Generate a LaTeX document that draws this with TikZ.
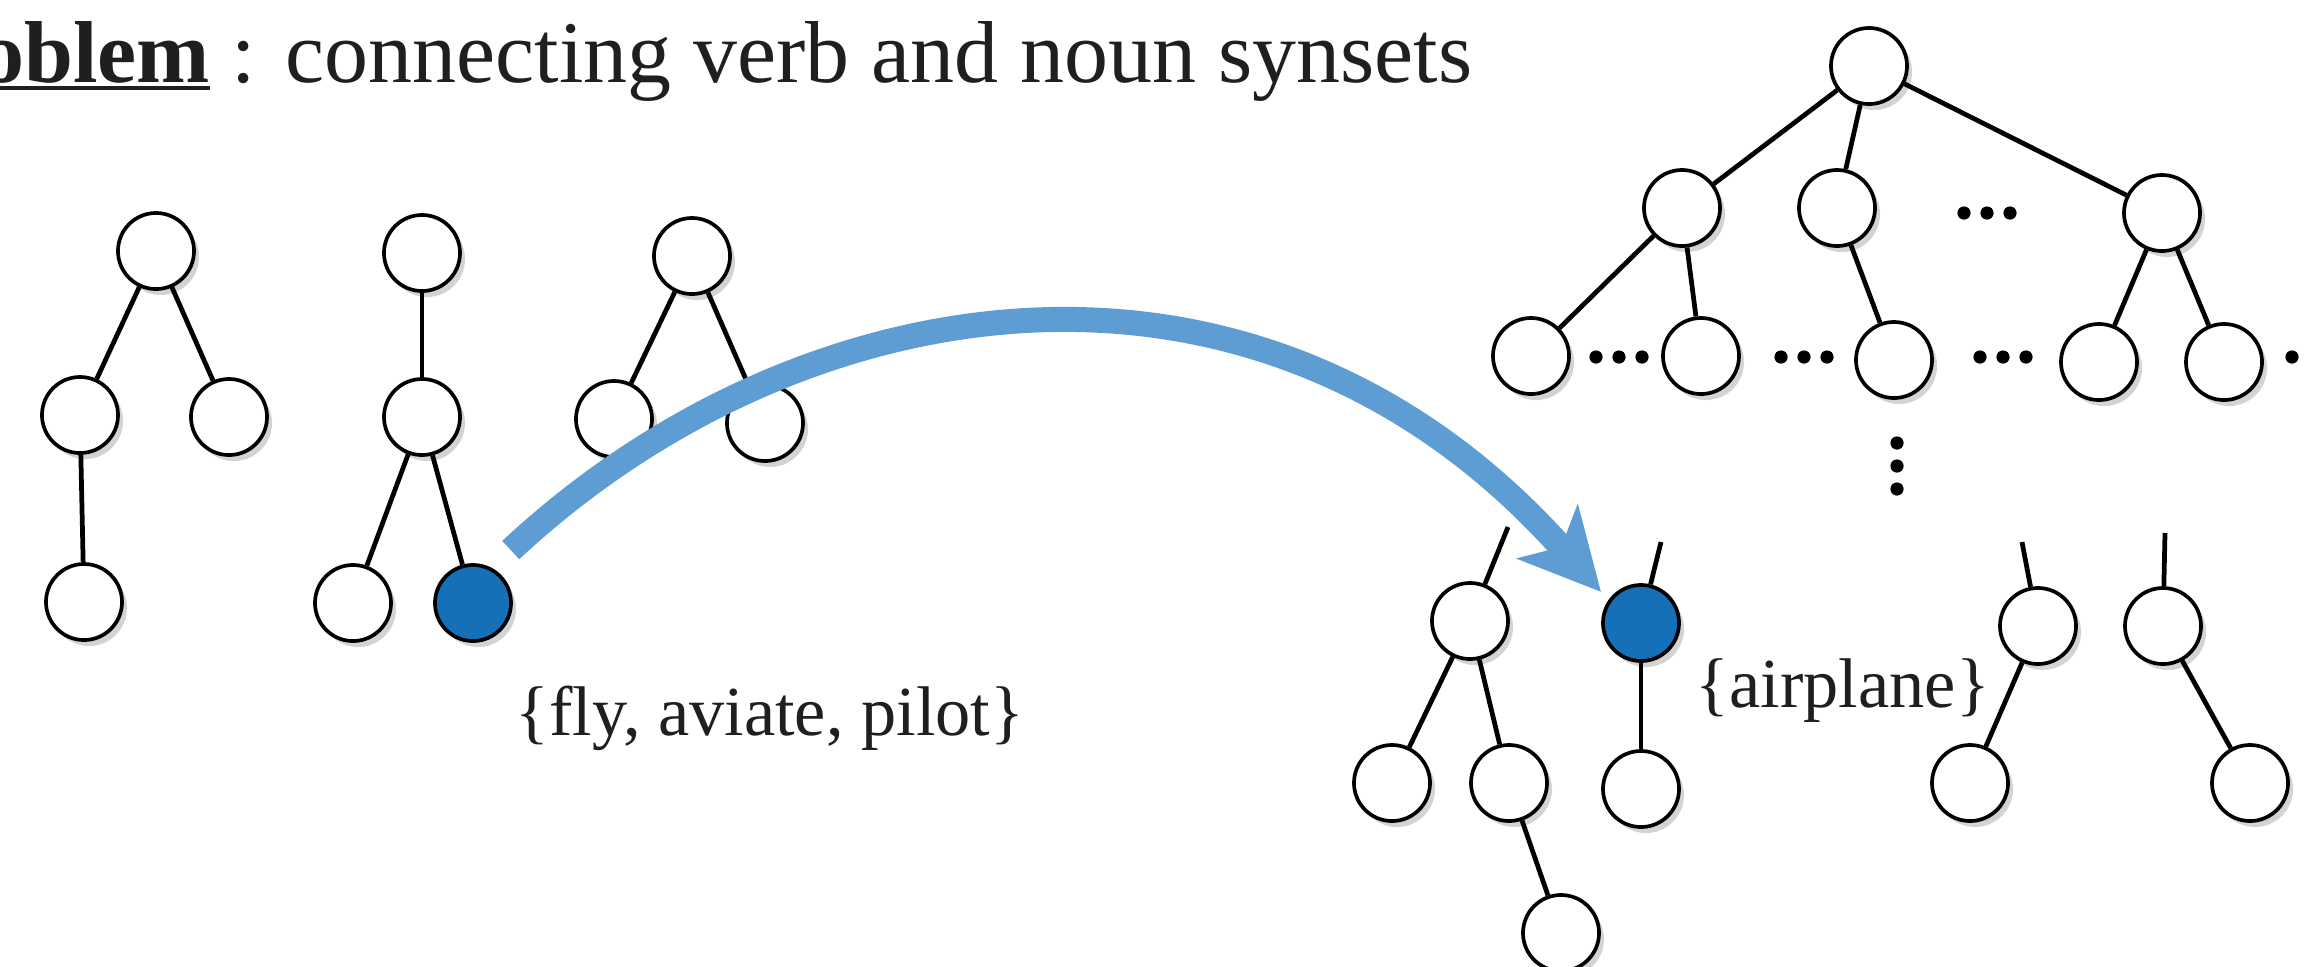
\documentclass[tikz,border=0pt]{standalone}
\usepackage{fontspec}
\setmainfont{Liberation Serif}
\usetikzlibrary{arrows.meta,shadows}

\definecolor{ArrowColor}{HTML}{5E9CD4}
\definecolor{SynsetColor}{HTML}{1570B8}

\newsavebox\ulbox
\newcommand{\ulword}[1]{\sbox\ulbox{#1}\rlap{\rule[-2.4pt]{\wd\ulbox}{1.2pt}}\usebox\ulbox}

\tikzset{
  synset/.style={circle, draw=black, line width=1.05pt, fill=white,
    minimum size=0.76cm, inner sep=0pt,
    drop shadow={shadow xshift=0.05cm, shadow yshift=-0.06cm, opacity=0.35}},
  picked/.style={synset, fill=SynsetColor},
  link/.style={line width=1.35pt},
  flow/.style={draw=ArrowColor, line width=0.25cm,
    -{Stealth[length=0.8cm, width=0.8cm, inset=0.2cm]}},
  synlabel/.style={inner sep=0pt, font=\fontsize{20}{24}\selectfont, text=black!88},
}

\begin{document}
\begin{tikzpicture}[x=0.01cm, y=-0.01cm]

  %–– Marco ––
  \useasboundingbox (0,0) rectangle (2305,966);
  \clip (0,0) rectangle (2305,966);

  %–– Parámetros de los puntos ––
  \def\dotgap{23}
  \def\dotsize{0.066cm}

  %–– Título ––
  \node[anchor=base east, inner sep=0pt, font=\fontsize{25}{30}\selectfont, text=black!88]
    (title) at (1473,82) {\ulword{\textbf{Problem}} : connecting verb and noun synsets};

  %–– Árboles de verbos ––
  \node[synset] (v1r) at (156,251) {};
  \node[synset] (v1a) at (80,415) {};
  \node[synset] (v1b) at (229,417) {};
  \node[synset] (v1c) at (84,602) {};

  \node[synset] (v2r) at (422,253) {};
  \node[synset] (v2a) at (422,417) {};
  \node[synset] (v2b) at (353,603) {};
  \node[picked] (v2c) at (473,603) {};

  \node[synset] (v3r) at (692,256) {};
  \node[synset] (v3a) at (614,419) {};
  \node[synset] (v3b) at (765,423) {};

  %–– Árbol grande de sustantivos ––
  \node[synset] (n0) at (1869,66) {};
  \node[synset] (n1) at (1682,208) {};
  \node[synset] (n2) at (1837,208) {};
  \node[synset] (n3) at (2162,213) {};
  \node[synset] (n11) at (1531,356) {};
  \node[synset] (n12) at (1701,356) {};
  \node[synset] (n21) at (1894,360) {};
  \node[synset] (n31) at (2099,362) {};
  \node[synset] (n32) at (2224,362) {};

  %–– Subárboles de abajo ––
  \node[synset] (a) at (1470,621) {};
  \node[synset] (a1) at (1392,783) {};
  \node[synset] (a2) at (1509,783) {};
  \node[synset] (a21) at (1561,933) {};

  \node[picked] (b) at (1641,623) {};
  \node[synset] (b1) at (1641,789) {};

  \node[synset] (c) at (2038,626) {};
  \node[synset] (c1) at (1970,783) {};

  \node[synset] (d) at (2163,626) {};
  \node[synset] (d1) at (2250,783) {};

  \coordinate (atop) at (1508,527);
  \coordinate (btop) at (1661,542);
  \coordinate (ctop) at (2022,542);
  \coordinate (dtop) at (2165,533);

  %–– Aristas ––
  \foreach \p/\q in {v1r/v1a, v1r/v1b, v1a/v1c,
    v2r/v2a, v2a/v2b, v2a/v2c,
    v3r/v3a, v3r/v3b,
    n0/n1, n0/n2, n0/n3, n1/n11, n1/n12, n2/n21, n3/n31, n3/n32,
    atop/a, a/a1, a/a2, a2/a21,
    btop/b, b/b1,
    ctop/c, c/c1,
    dtop/d, d/d1}{
    \draw[link] (\p) -- (\q);
  }

  %–– Puntos suspensivos ––
  \foreach \x/\y in {1987/213, 1619/357, 1804/357, 2003/357, 2315/357}{
    \foreach \k in {-1,0,1}
      \fill (\x+\k*\dotgap,\y) circle (\dotsize);
  }
  \foreach \k in {-1,0,1}
    \fill (1897,466+\k*\dotgap) circle (\dotsize);

  %–– Etiquetas ––
  \node[synlabel, anchor=base west] (verbsyn) at (515,735) {\{fly, aviate, pilot\}};
  \node[synlabel, anchor=base west] (nounsyn) at (1695,707) {\{airplane\}};

  %–– Flecha ––
  \draw[flow, shorten <=0.26cm, shorten >=0.11cm]
    (v2c.62) .. controls (800,280) and (1259,207) .. (b.145);

\end{tikzpicture}
\end{document}
